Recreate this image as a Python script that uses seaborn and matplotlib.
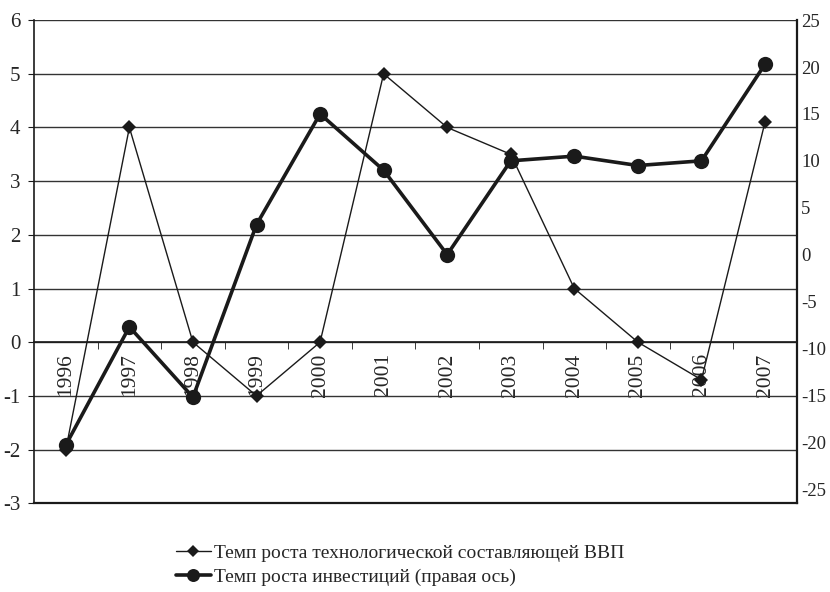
import numpy as np
import pandas as pd
import seaborn as sns
import matplotlib.pyplot as plt

# data
years = ['1996', '1997', '1998', '1999', '2000', '2001',
         '2002', '2003', '2004', '2005', '2006', '2007']
tech = [-2, 4, 0, -1, 0, 5, 4, 3.5, 1, 0, -0.7, 4.1]
invest = [-20.3, -7.7, -15.2, 3.2, 15, 9, 0, 10, 10.5, 9.5, 10, 20.3]

tech_label = 'Темп роста технологической составляющей ВВП'
invest_label = 'Темп роста инвестиций (правая ось)'

sns.set_style("white")
plt.rcParams['font.family'] = ['Liberation Serif', 'DejaVu Serif']
plt.rcParams['font.size'] = 14
plt.rcParams['axes.unicode_minus'] = False

df = pd.DataFrame({'x': np.arange(len(years)), 'tech': tech, 'invest': invest})

fig = plt.figure(figsize=(8.3, 5.92), dpi=100)
ax = fig.add_axes([0.041, 0.150, 0.919, 0.816])

# left axis - technology component
sns.lineplot(data=df, x='x', y='tech', ax=ax, color='#1a1a1a', lw=1,
             marker='D', markersize=7, markeredgewidth=0, zorder=4,
             label=tech_label)
ax.set_xlim(-0.5, len(years) - 0.5)
ax.set_ylim(-3, 6)
ax.set_yticks(range(-3, 7))
ax.grid(axis='y', color='#333333', lw=1)
ax.grid(axis='x', visible=False)
ax.set_xlabel('')
ax.set_ylabel('')

ax.spines['bottom'].set_position(('data', 0))
ax.spines['top'].set_visible(False)
ax.spines['right'].set_visible(False)
for s in ['left', 'bottom']:
    ax.spines[s].set_color('#1a1a1a')
    ax.spines[s].set_linewidth(1.2)

ax.set_xticks(df['x'])
ax.set_xticklabels(years, rotation=90)
ax.set_xticks(df['x'][:-1] + 0.5, minor=True)
ax.tick_params(axis='x', which='major', length=0, pad=8, labelsize=15.5)
ax.tick_params(axis='x', which='minor', length=5, direction='out',
               color='#1a1a1a', bottom=True)
ax.tick_params(axis='y', length=4, direction='out', color='#1a1a1a',
               left=True, pad=6, labelsize=15)

# right axis - investments
ax2 = ax.twinx()
sns.lineplot(data=df, x='x', y='invest', ax=ax2, color='#1a1a1a', lw=2.6,
             marker='o', markersize=11, markeredgewidth=0,
             label=invest_label)
ax2.set_ylim(-26.5, 25)
ax2.set_yticks(range(-25, 26, 5))
ax2.set_ylabel('')
ax2.grid(False)
for s in ['left', 'top']:
    ax2.spines[s].set_visible(False)
for s in ['right', 'bottom']:
    ax2.spines[s].set_color('#1a1a1a')
    ax2.spines[s].set_linewidth(1.6)
ax2.tick_params(axis='y', length=0, pad=3, labelsize=13.5)

h1, l1 = ax.get_legend_handles_labels()
h2, l2 = ax2.get_legend_handles_labels()
ax.get_legend().remove()
ax2.get_legend().remove()
fig.legend(h1 + h2, l1 + l2, loc='upper left',
           bbox_to_anchor=(158 / 830, 1 - 527 / 592), frameon=False,
           handlelength=1.8, handletextpad=0.2, labelspacing=0.3,
           markerscale=0.85, fontsize=14)

fig.savefig('out.png', dpi=100)
